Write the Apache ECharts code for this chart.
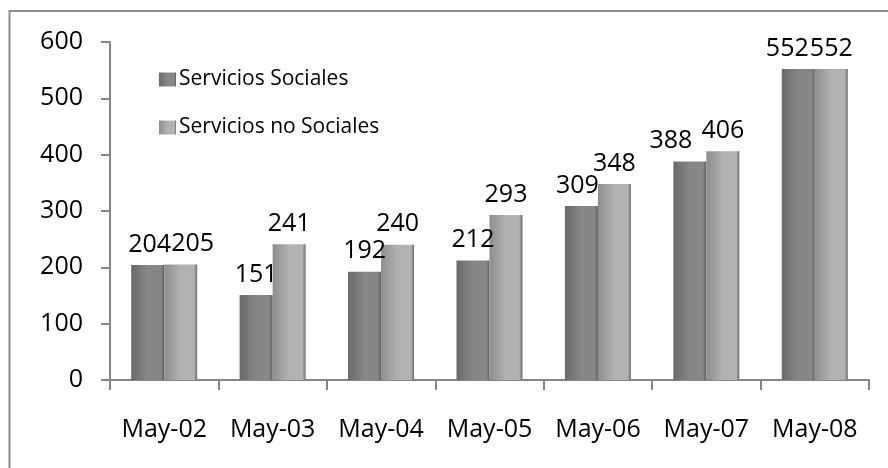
<!DOCTYPE html>
<html>
<head>
<meta charset="utf-8">
<script src="https://cdn.jsdelivr.net/npm/echarts@6/dist/echarts.min.js"></script>
<style>
  html, body { margin: 0; padding: 0; background: #fff; }
  #chart { width: 888px; height: 468px; }
</style>
</head>
<body>
<div id="chart"></div>
<script>
// categorias y valores
const categories = ['May-02', 'May-03', 'May-04', 'May-05', 'May-06', 'May-07', 'May-08'];
const sociales = [204, 151, 192, 212, 309, 388, 552];
const noSociales = [205, 241, 240, 293, 348, 406, 552];
const yTicks = [0, 100, 200, 300, 400, 500, 600];

// desplazamiento horizontal de etiquetas para que no se pisen (como en Excel)
const shiftSociales = [2, 0, 0, 0, -4, -19, -11];
const shiftNoSociales = [12, 0, 0, 0, 0, 0, 0];

const font = '"Open Sans", "Noto Sans", sans-serif';

// degradado horizontal para simular el relieve de las barras
function barGradient(edge, mid, edge2) {
  return new echarts.graphic.LinearGradient(0, 0, 1, 0, [
    { offset: 0, color: edge },
    { offset: 0.5, color: mid },
    { offset: 0.9, color: mid },
    { offset: 1, color: edge2 }
  ]);
}

function withShift(values, shifts) {
  return values.map((v, i) => ({
    value: v,
    label: { offset: [shifts[i], 0] }
  }));
}

const chart = echarts.init(document.getElementById('chart'));

chart.setOption({
  animation: false,
  textStyle: { fontFamily: font },
  // marco exterior (solo se ven los bordes superior e izquierdo)
  graphic: [{
    type: 'rect',
    shape: { x: 9.5, y: 11, width: 900, height: 500 },
    style: { fill: 'none', stroke: '#8c8c8c', lineWidth: 2 },
    silent: true
  }],
  grid: { left: 110, right: 19, top: 42, bottom: 88 },
  legend: {
    orient: 'vertical',
    left: 154,
    top: 64,
    itemGap: 27,
    itemWidth: 17,
    itemHeight: 14,
    icon: 'rect',
    textStyle: { fontSize: 21, color: '#000', padding: [0, 0, 0, -2] },
    data: ['Servicios Sociales', 'Servicios no Sociales']
  },
  xAxis: {
    type: 'category',
    data: categories,
    axisLine: { lineStyle: { color: '#868686', width: 2 } },
    axisTick: { show: true, length: 10, lineStyle: { color: '#868686', width: 2 } },
    axisLabel: { fontSize: 25, color: '#000', margin: 37, interval: 0 }
  },
  yAxis: {
    type: 'value',
    min: yTicks[0],
    max: yTicks[yTicks.length - 1],
    interval: 100,
    splitLine: { show: false },
    axisLine: { show: true, lineStyle: { color: '#868686', width: 2 } },
    axisTick: { show: true, length: 9, lineStyle: { color: '#868686', width: 2 } },
    axisLabel: { fontSize: 25, color: '#000', margin: 27 }
  },
  series: [
    {
      name: 'Servicios Sociales',
      type: 'bar',
      data: withShift(sociales, shiftSociales),
      barWidth: 33,
      barGap: '0%',
      itemStyle: { color: barGradient('#6a6a6a', '#878787', '#5e5e5e') },
      label: { show: true, position: 'top', fontSize: 25, color: '#000', distance: 8 }
    },
    {
      name: 'Servicios no Sociales',
      type: 'bar',
      data: withShift(noSociales, shiftNoSociales),
      barWidth: 33,
      itemStyle: { color: barGradient('#8e8e8e', '#b2b2b2', '#6e6e6e') },
      label: { show: true, position: 'top', fontSize: 25, color: '#000', distance: 8 }
    }
  ]
});
</script>
</body>
</html>
